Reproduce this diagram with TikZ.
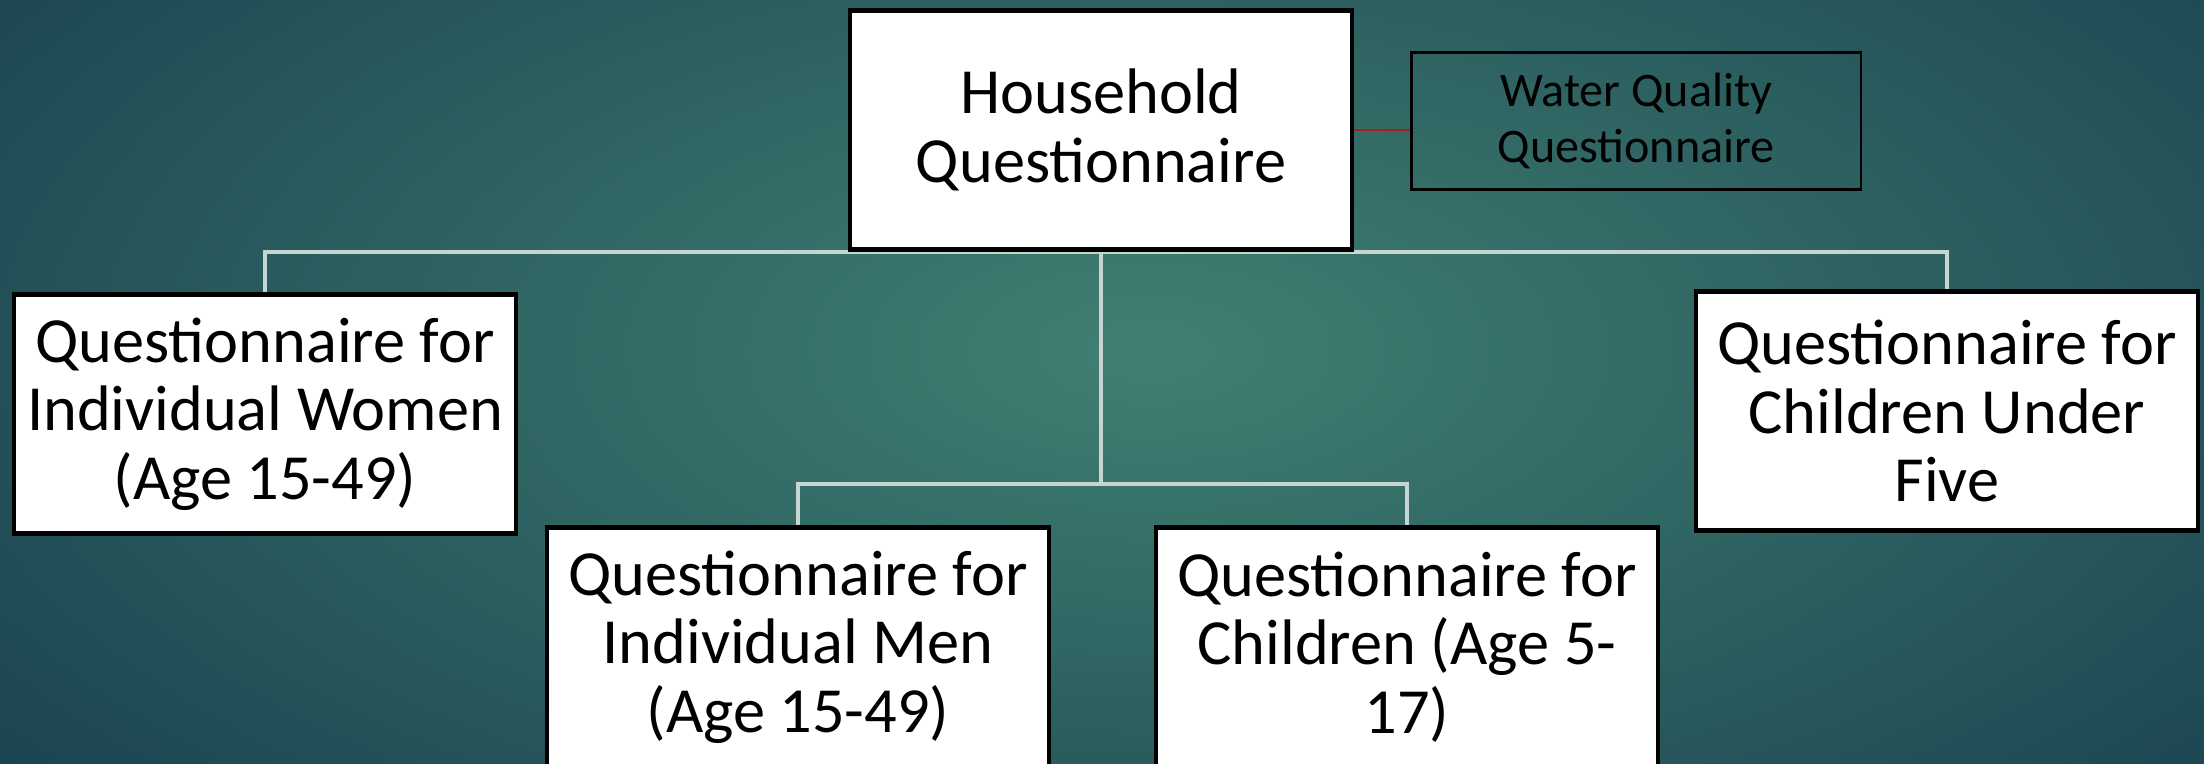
\documentclass[tikz,border=0pt]{standalone}
\usepackage{fontspec}
\setmainfont{Carlito}
\usetikzlibrary{positioning}

\definecolor{tealin}{RGB}{64,128,114}
\definecolor{tealout}{RGB}{26,66,80}
\definecolor{linkgray}{RGB}{200,212,210}
\definecolor{linkred}{RGB}{170,30,30}

\pgfdeclarelayer{bg}
\pgfsetlayers{bg,main}

\begin{document}
\begin{tikzpicture}[
    x=0.01cm, y=-0.01cm,
    qbox/.style={rectangle, draw=black, line width=1.3pt, fill=white, minimum width=5.02cm, minimum height=2.39cm, align=center, inner sep=2pt, font=\fontsize{18.3}{19.5}\selectfont},
    notebox/.style={rectangle, draw=black, line width=0.6pt, minimum width=4.49cm, minimum height=1.37cm, align=center, font=\fontsize{13.7}{15.8}\selectfont},
    link/.style={draw=linkgray, line width=1pt},
    redlink/.style={draw=linkred, line width=0.8pt}
]
\useasboundingbox (0,0) rectangle (2204,764);

% Nodes
\node[qbox] (HH) at (1101,130) {Household\\Questionnaire};
\node[notebox, right=0.56cm of HH, yshift=0.09cm] (WQ) {Water Quality\\Questionnaire};
\node[qbox] (Women) at (265,414) {Questionnaire for\\Individual Women\\(Age 15-49)};
\node[qbox] (Five) at (1947,411) {Questionnaire for\\Children Under\\Five};
\node[qbox] (Men) at (798,647) {Questionnaire for\\Individual Men\\(Age 15-49)};
\node[qbox] (Kids) at (1407,647) {Questionnaire for\\Children (Age 5-\\17)};
\coordinate[below=2.32cm of HH.south] (split);

% Background and links
\begin{pgfonlayer}{bg}
\begin{scope}
\clip (0,0) rectangle (2204,764);
\shade[inner color=tealin, outer color=tealout] (-350,-350) rectangle (2650,1050);
\end{scope}
\draw[link] (Women.north) |- (HH.south) -| (Five.north);
\draw[link] (HH.south) -- (split);
\draw[link] (Men.north) |- (split) -| (Kids.north);
\end{pgfonlayer}
\draw[redlink] (HH.east) -- (HH.east -| WQ.west);

\end{tikzpicture}
\end{document}
